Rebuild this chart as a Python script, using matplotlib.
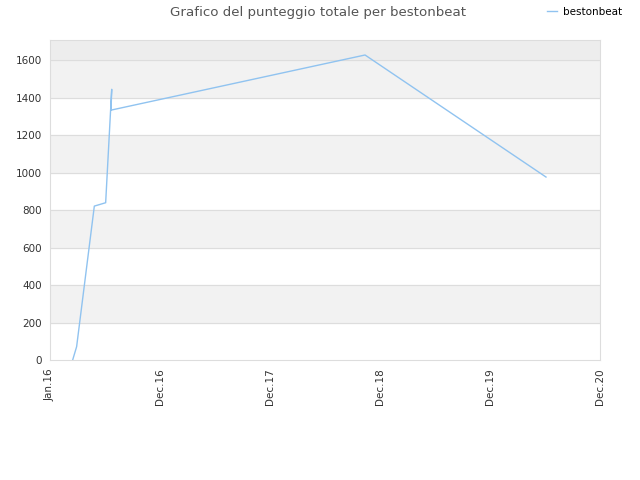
import matplotlib
matplotlib.use('Agg')
import matplotlib.pyplot as plt

# x in years since Jan.16 (ticks are evenly spaced on the reference)
x_vals = [0.206, 0.242, 0.403, 0.455, 0.506, 0.561, 0.555, 2.864, 4.509]
y_vals = [0, 71, 821, 830, 839, 1444, 1333, 1627, 976]
tick_pos = [0, 1, 2, 3, 4, 5]
tick_labels = ['Jan.16', 'Dec.16', 'Dec.17', 'Dec.18', 'Dec.19', 'Dec.20']

fig = plt.figure(figsize=(6.4, 4.8), dpi=100)
ax = fig.add_axes([50/640, 120/480, 550/640, 320/480])

ymax = 1707
for lo in range(200, 1700, 400):
    ax.axhspan(lo, lo + 200, color='#f2f2f2', zorder=0)
ax.axhspan(1600, ymax, color='#ededed', zorder=0)
for y in range(200, 1700, 200):
    ax.axhline(y, color='#dddddd', lw=0.8, zorder=1)

ax.plot(x_vals, y_vals, color='#90c3f0', lw=1.0, label='bestonbeat', zorder=2)

ax.set_xlim(0, 5)
ax.set_ylim(0, ymax)
ax.set_yticks(range(0, 1700, 200))
ax.set_xticks(tick_pos)
ax.set_xticklabels(tick_labels, rotation=90)
ax.tick_params(length=0, labelsize=7.5, colors='#333333', pad=6)
for s in ax.spines.values():
    s.set_color('#dddddd')

fig.text(0.497, 0.988, 'Grafico del punteggio totale per bestonbeat', ha='center', va='top',
         fontsize=9.6, color='#555555')
fig.legend(loc='upper right', bbox_to_anchor=(0.987, 1.005), frameon=False, fontsize=7.5,
           handlelength=1.0, handletextpad=0.6)

fig.savefig('out.png')
